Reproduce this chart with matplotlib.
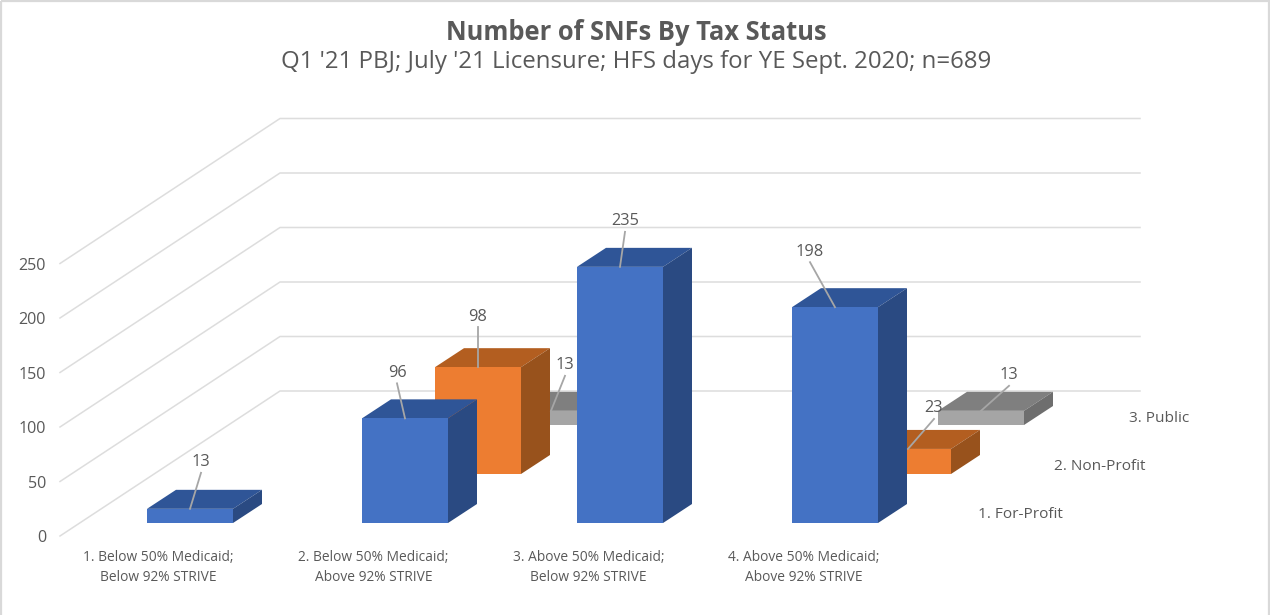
import matplotlib
matplotlib.use("Agg")
import matplotlib.pyplot as plt
from matplotlib.patches import Polygon, Rectangle

# ---- data ----
categories = ["1. Below 50% Medicaid;\nBelow 92% STRIVE",
              "2. Below 50% Medicaid;\nAbove 92% STRIVE",
              "3. Above 50% Medicaid;\nBelow 92% STRIVE",
              "4. Above 50% Medicaid;\nAbove 92% STRIVE"]
series_names = ["1. For-Profit", "2. Non-Profit", "3. Public"]
for_profit = [13, 96, 235, 198]
non_profit = [None, 98, None, 23]
public = [None, 13, None, 13]
y_ticks = [0, 50, 100, 150, 200, 250]
title = "Number of SNFs By Tax Status"
subtitle = "Q1 '21 PBJ; July '21 Licensure; HFS days for YE Sept. 2020; n=689"

# ---- style ----
face = ["#4472C4", "#ED7D31", "#A5A5A5"]
top = ["#2F5597", "#B35E20", "#7F7F7F"]
side = ["#2A4A82", "#98521C", "#6E6E6E"]
TXT = "#595959"
GRID = "#DDDDDD"
FONT = "Open Sans"

# oblique projection: (category, series depth, value) -> pixel position
X0, CAT_DX, SER_DX, SER_DY = 147.0, 215.0, 73.0, 49.0
Y0, PX_PER_UNIT = 523.0, 1.09
BAR_W, DEP_X, DEP_Y = 86.0, 29.0, 19.0

def proj(c, s, v):
    return X0 + CAT_DX * c + SER_DX * s, Y0 - SER_DY * s - PX_PER_UNIT * v

fig = plt.figure(figsize=(12.7, 6.15), dpi=100)
ax = fig.add_axes([0, 0, 1, 1])
ax.set_xlim(0, 1270)
ax.set_ylim(615, 0)
ax.axis("off")

# chart border
ax.add_patch(Rectangle((1, 1), 1267.5, 640, fill=False, ec="#D9D9D9", lw=1.6, zorder=0))

# walls: gridlines
for t in y_ticks:
    yb = 391 - PX_PER_UNIT * t
    yf = 536 - PX_PER_UNIT * t
    ax.plot([60, 280, 1140], [yf, yb, yb], color=GRID, lw=1.1, zorder=1,
            solid_joinstyle="miter")
    ax.text(46, yf + 2.2, str(t), ha="right", va="center", fontsize=11.6,
            color=TXT, family=FONT)

# bars, back to front
series = [for_profit, non_profit, public]
z = 2
for s in (2, 1, 0):
    for c in range(len(categories)):
        v = series[s][c]
        if v is None:
            continue
        xl, yt = proj(c, s, v)
        _, yb = proj(c, s, 0)
        xr = xl + BAR_W
        ax.add_patch(Polygon([(xl, yt), (xl + DEP_X, yt - DEP_Y), (xr + DEP_X, yt - DEP_Y), (xr, yt)],
                             closed=True, fc=top[s], ec="none", zorder=z))
        ax.add_patch(Polygon([(xr, yt), (xr + DEP_X, yt - DEP_Y), (xr + DEP_X, yb - DEP_Y), (xr, yb)],
                             closed=True, fc=side[s], ec="none", zorder=z))
        ax.add_patch(Rectangle((xl, yt), BAR_W, yb - yt, fc=face[s], ec="none", zorder=z))
    z += 1

# value labels with leader lines; offsets are label position relative to the bar's top-front centre
label_offset = {(0, 0): (11, -48), (0, 1): (-8, -47), (0, 2): (5, -47), (0, 3): (-25, -57),
                (1, 1): (0, -52), (1, 3): (26, -42),
                (2, 1): (14, -47), (2, 3): (28, -37)}
for (s, c), (dx, dy) in label_offset.items():
    v = series[s][c]
    xl, yt = proj(c, s, v)
    xc = xl + BAR_W / 2
    ax.plot([xc, xc + dx], [yt, yt + dy + 12], color="#A6A6A6", lw=1.3, zorder=8)
    ax.text(xc + dx, yt + dy + 1.5, str(v), ha="center", va="center", fontsize=11.8,
            color=TXT, family=FONT, zorder=9)

# category labels
for c, name in enumerate(categories):
    xl, _ = proj(c, 0, 0)
    ax.text(xl + 11.5, 567.5, name, ha="center", va="center", fontsize=9.95, color=TXT,
            family=FONT, linespacing=1.48, zorder=9)

# series labels
series_label_x = [1020, 1100, 1159]
series_label_y = [515, 467, 419]
for name, lx, ly in zip(series_names, series_label_x, series_label_y):
    ax.text(lx, ly, name, ha="center", va="center", fontsize=11.1,
            color=TXT, family=FONT, zorder=9)

ax.text(636.5, 33, title, ha="center", va="center", fontsize=18.4, fontweight="bold",
        color=TXT, family=FONT)
ax.text(636, 62.5, subtitle, ha="center", va="center", fontsize=17.3, color=TXT, family=FONT)

fig.savefig("out.png", dpi=100)
